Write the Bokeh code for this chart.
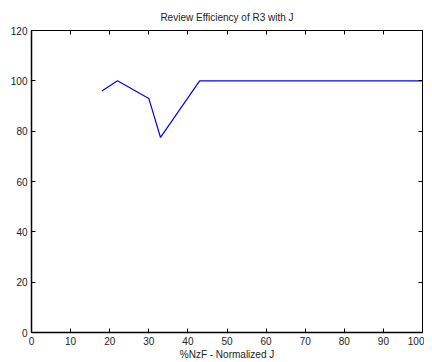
from bokeh.plotting import figure
from bokeh.models import LinearAxis, Range1d, FixedTicker
from bokeh.embed import file_html
from bokeh.resources import INLINE

x_vals = [18, 22, 30, 33, 43, 100]
efficiency = [96, 100, 93, 77.5, 100, 100]
x_ticks = [0, 10, 20, 30, 40, 50, 60, 70, 80, 90, 100]
y_ticks = [0, 20, 40, 60, 80, 100, 120]

FONT = "Liberation Sans"

p = figure(width=424, height=362, output_backend="svg", toolbar_location=None,
           x_range=Range1d(0, 100), y_range=Range1d(0, 120),
           title="Review Efficiency of R3 with J",
           min_border_left=31, min_border_right=2, min_border_top=30, min_border_bottom=30)
p.title.align = "center"
p.title.text_font = FONT
p.title.text_font_size = "10px"
p.title.text_font_style = "normal"
p.title.text_color = "#222222"
p.title.offset = 0
p.title.standoff = 15

p.grid.visible = False
p.outline_line_color = "black"
p.outline_line_width = 1
p.background_fill_color = "white"
p.border_fill_color = "white"

p.xaxis.ticker = FixedTicker(ticks=x_ticks)
p.yaxis.ticker = FixedTicker(ticks=y_ticks)
p.xaxis.axis_label = "%NzF - Normalized J"
for ax in (p.xaxis, p.yaxis):
    ax.major_tick_in = 4
    ax.major_tick_out = 0
    ax.minor_tick_line_color = None
    ax.axis_line_width = 1.5
    ax.axis_line_color = "black"
    ax.major_tick_line_color = "black"
    ax.major_label_text_font = FONT
    ax.major_label_text_font_size = "10px"
    ax.major_label_text_color = "#222222"
    ax.axis_label_text_font = FONT
    ax.axis_label_text_font_size = "10px"
    ax.axis_label_text_font_style = "normal"
    ax.axis_label_text_color = "#222222"
p.xaxis.major_label_standoff = 4
p.xaxis.axis_label_standoff = 1
p.yaxis.major_label_standoff = 4

top = LinearAxis(ticker=FixedTicker(ticks=x_ticks), major_tick_in=4, major_tick_out=0,
                 minor_tick_line_color=None, major_label_standoff=0,
                 major_label_overrides={t: "" for t in x_ticks},
                 axis_line_color=None)
right = LinearAxis(ticker=FixedTicker(ticks=y_ticks), major_tick_in=4, major_tick_out=0,
                   minor_tick_line_color=None, major_label_standoff=0,
                   major_label_overrides={t: "" for t in y_ticks},
                   axis_line_color=None)
p.add_layout(top, "above")
p.add_layout(right, "right")

p.line(x_vals, efficiency, line_color="#0000ff", line_width=1.2)

open("out.html", "w").write(file_html(p, INLINE))
